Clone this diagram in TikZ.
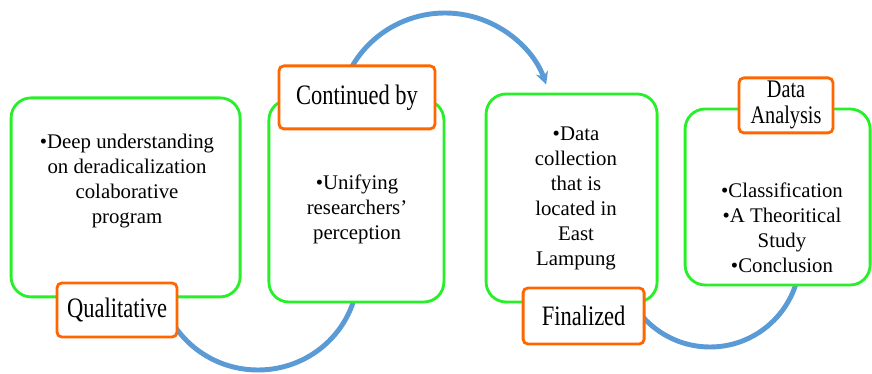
\documentclass[tikz,border=0pt]{standalone}
\usepackage{fontspec}
\setmainfont{Liberation Serif}
\newfontfamily\narrowfont{Liberation Serif}[FakeStretch=0.8]
\usetikzlibrary{arrows.meta,backgrounds}
\definecolor{boxgreen}{RGB}{40,240,40}
\definecolor{tagorange}{RGB}{255,102,0}
\definecolor{flowblue}{RGB}{91,155,213}

\begin{document}
\begin{tikzpicture}[>={Stealth[length=9pt,width=9pt]},
    greenbox/.style={draw=boxgreen,line width=2pt,rounded corners=0.5cm,fill=white},
    tagbox/.style={draw=tagorange,line width=2pt,rounded corners=0.12cm,fill=white,
        inner sep=0pt,align=center,font=\narrowfont\fontsize{20}{22}\selectfont},
    body/.style={align=center,inner sep=0pt,font=\fontsize{14.8}{17.8}\selectfont},
    flow/.style={draw=flowblue,line width=3.5pt}]
\useasboundingbox (0,0) rectangle (21.8,9.325);

% the four steps
\node[greenbox,minimum width=5.725cm,minimum height=4.975cm] (qbox) at (3.14,4.39) {};
\node[greenbox,minimum width=4.375cm,minimum height=5.05cm] (cbox) at (8.91,4.3) {};
\node[greenbox,minimum width=4.275cm,minimum height=5.2cm] (fbox) at (14.29,4.375) {};
\node[greenbox,minimum width=4.625cm,minimum height=4.4cm] (abox) at (19.44,4.4) {};

\node[body] (qtext) at (3.175,4.8) {\textbullet Deep understanding\\on deradicalization\\colaborative\\program};
\node[body] (ctext) at (8.925,4.1) {\textbullet Unifying\\researchers'\\perception};
\node[body] (ftext) at (14.4,4.36) {\textbullet Data\\collection\\that is\\located in\\East\\Lampung};
\node[body] (atext) at (19.55,3.63) {\textbullet Classification\\\textbullet A Theoritical\\Study\\\textbullet Conclusion};

% tags
\node[tagbox,minimum width=3cm,minimum height=1.35cm] (qual) at (2.925,1.575) {Qualitative};
\node[tagbox,minimum width=3.9cm,minimum height=1.575cm] (cont) at (8.925,6.89) {Continued by};
\node[tagbox,minimum width=3.025cm,minimum height=1.4cm] (fin) at (14.59,1.425) {Finalized};
\node[tagbox,minimum width=2.35cm,minimum height=1.375cm,font=\narrowfont\fontsize{18}{18.5}\selectfont] (ana) at (19.65,6.69) {Data\\Analysis};

% blue flow behind the boxes
\coordinate (q1) at (3.95,2.525);
\coordinate (c1) at (8.61,7.256);
\coordinate (f1) at (15.5,2.9);
\begin{scope}[on background layer]
\draw[flow] (q1) arc[start angle=180,end angle=360,x radius=2.5cm,y radius=2.45cm];
\draw[flow,->] (c1) arc[start angle=160,end angle=19,x radius=2.675cm,y radius=2.65cm];
\draw[flow] (f1) arc[start angle=180,end angle=360,radius=2.25cm];
\end{scope}
\end{tikzpicture}
\end{document}
